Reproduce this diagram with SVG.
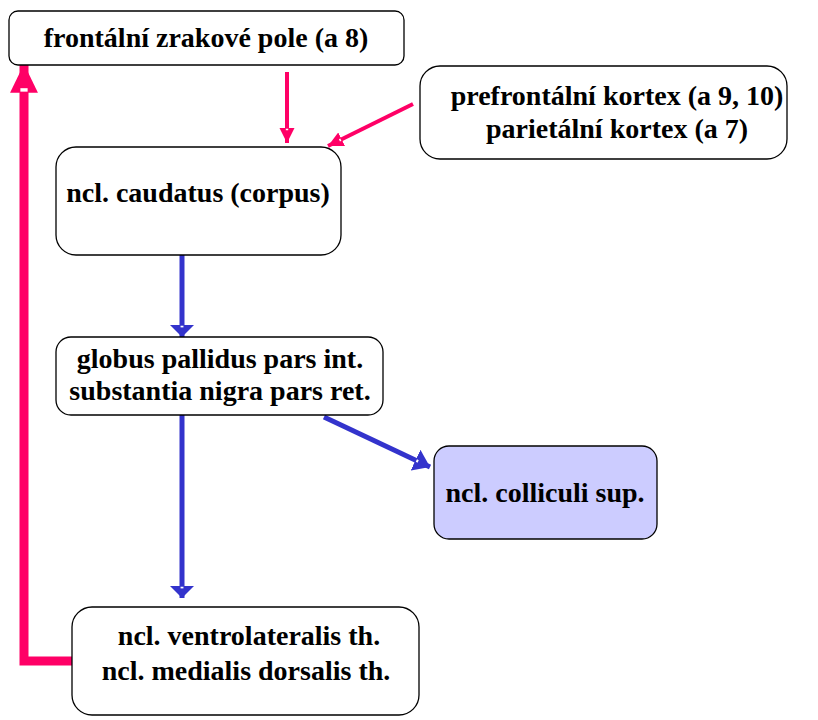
<svg xmlns="http://www.w3.org/2000/svg" width="818" height="720" viewBox="0 0 818 720">
  <style>
    .box { fill: #ffffff; stroke: #000000; stroke-width: 1.3; }
    .box.hl { fill: #ccccff; }
    .lbl { font-family: "Liberation Serif", "Times New Roman", serif; font-weight: bold; font-size: 28px; fill: #000000; text-anchor: middle; }
    .pink { stroke: #ff0066; fill: none; }
    .blue { stroke: #3333cc; fill: none; }
  </style>
  <defs>
    <marker id="headPink" viewBox="0 0 10 10" preserveAspectRatio="none" refX="10" refY="5" markerWidth="3.8" markerHeight="3.8" markerUnits="strokeWidth" orient="auto">
      <path d="M0,0 L10,5 L0,10 Z" fill="#ff0066"/>
      <rect x="0.6" y="4.2" width="1" height="1.6" fill="#ffffff"/>
    </marker>
    <marker id="headBlue" viewBox="0 0 10 10" preserveAspectRatio="none" refX="10" refY="5" markerWidth="2.4" markerHeight="4.8" markerUnits="strokeWidth" orient="auto">
      <path d="M0,0 L10,5 L0,10 Z" fill="#3333cc"/>
      <rect x="0.6" y="4.4" width="1.4" height="1.2" fill="#ffffff"/>
    </marker>
    <marker id="headBlueDiag" viewBox="0 0 10 10" preserveAspectRatio="none" refX="10" refY="5" markerWidth="3.2" markerHeight="4.6" markerUnits="strokeWidth" orient="auto">
      <path d="M0,0 L10,5 L0,10 Z" fill="#3333cc"/>
      <rect x="0.6" y="4.4" width="1.2" height="1.2" fill="#ffffff"/>
    </marker>
    <marker id="headLoop" viewBox="0 0 10 10" preserveAspectRatio="none" refX="10" refY="5" markerWidth="3.2" markerHeight="3.1" markerUnits="strokeWidth" orient="auto">
      <path d="M0,0 L10,5 L0,10 Z" fill="#ff0066"/>
      <rect x="0.4" y="3.7" width="1.2" height="2.6" fill="#ffffff"/>
    </marker>
  </defs>

  <g id="connectors">
    <line class="pink" x1="287" y1="72" x2="287" y2="143" stroke-width="4" marker-end="url(#headPink)"/>
    <line class="pink" x1="413" y1="104" x2="328" y2="146" stroke-width="4" marker-end="url(#headPink)"/>
    <polyline class="pink" points="72,661 24,661 24,64" stroke-width="9" marker-end="url(#headLoop)"/>
    <line class="blue" x1="182" y1="255" x2="182" y2="337" stroke-width="5" marker-end="url(#headBlue)"/>
    <line class="blue" x1="324" y1="417" x2="430" y2="467" stroke-width="5" marker-end="url(#headBlueDiag)"/>
    <line class="blue" x1="182" y1="415" x2="182" y2="598" stroke-width="5" marker-end="url(#headBlue)"/>
  </g>

  <g id="frontal-eye-field">
    <rect class="box" x="9" y="11" width="395" height="54" rx="9"/>
    <text class="lbl" x="206" y="47">frontální zrakové pole (a 8)</text>
  </g>

  <g id="prefrontal-parietal">
    <rect class="box" x="420" y="66" width="367" height="93" rx="20"/>
    <text class="lbl" x="617" y="105">prefrontální kortex (a 9, 10)</text>
    <text class="lbl" x="617" y="138">parietální kortex (a 7)</text>
  </g>

  <g id="caudatus">
    <rect class="box" x="56" y="147" width="285" height="108" rx="20"/>
    <text class="lbl" x="198" y="202">ncl. caudatus (corpus)</text>
  </g>

  <g id="pallidus-nigra">
    <rect class="box" x="56" y="337" width="327" height="78" rx="15"/>
    <text class="lbl" x="220" y="368">globus pallidus pars int.</text>
    <text class="lbl" x="220" y="400">substantia nigra pars ret.</text>
  </g>

  <g id="colliculi">
    <rect class="box hl" x="434" y="446" width="223" height="93" rx="15"/>
    <text class="lbl" x="545" y="502">ncl. colliculi sup.</text>
  </g>

  <g id="thalamus">
    <rect class="box" x="72" y="607" width="347" height="108" rx="20"/>
    <text class="lbl" x="249" y="645">ncl. ventrolateralis th.</text>
    <text class="lbl" x="246" y="680">ncl. medialis dorsalis th.</text>
  </g>
</svg>
